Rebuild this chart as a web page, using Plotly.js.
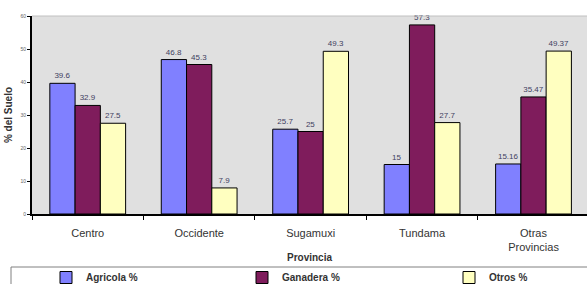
<!DOCTYPE html>
<html>
<head>
<meta charset="utf-8">
<script src="https://cdn.plot.ly/plotly-3.0.1.min.js"></script>
<style>html,body{margin:0;padding:0;background:#fff;}#chart{width:587px;height:284px;}</style>
</head>
<body>
<div id="chart"></div>
<script>
const categories = ["Centro", "Occidente", "Sugamuxi", "Tundama", "Otras<br>Provincias"];
const agricola = [39.6, 46.8, 25.7, 15, 15.16];
const ganadera = [32.9, 45.3, 25, 57.3, 35.47];
const otros = [27.5, 7.9, 49.3, 27.7, 49.37];
const seriesNames = ["Agricola %", "Ganadera %", "Otros %"];
const colors = ["#8080ff", "#7f1c5c", "#ffffc0"];
const yTicks = [0, 10, 20, 30, 40, 50, 60];

const W = 587, H = 284, L = 32, R = 0, T = 16, B = 70;
const pw = W - L - R, ph = H - T - B;
const px2x = p => (p - L) / pw;
const py2y = p => (H - B - p) / ph;

const legendIds = ['legend', 'legend2', 'legend3'];
const mk = (vals, i) => ({
  type: 'bar', x: categories, y: vals, name: seriesNames[i], legend: legendIds[i],
  marker: {color: colors[i], line: {color: '#000', width: 1}},
  text: vals.map(String), textposition: 'outside', cliponaxis: false,
  textfont: {family: 'Arial, Liberation Sans', size: 8, color: '#404060'}
});
const data = [mk(agricola, 0), mk(ganadera, 1), mk(otros, 2)];

const legStyle = (xp) => ({orientation: 'h', x: px2x(xp), xanchor: 'left', y: py2y(263), yanchor: 'top',
  bgcolor: 'rgba(0,0,0,0)', borderwidth: 0, itemwidth: 30,
  font: {size: 10, weight: 'bold', color: '#333'}});

const layout = {
  width: W, height: H,
  margin: {l: L, r: R, t: T, b: B, autoexpand: false},
  paper_bgcolor: '#fff', plot_bgcolor: '#e0e0e0',
  barmode: 'group', bargap: 0.32, bargroupgap: 0,
  font: {family: 'Arial, Liberation Sans', color: '#333'},
  showlegend: true,
  legend: legStyle(46),
  legend2: legStyle(242),
  legend3: legStyle(449),
  xaxis: {
    range: [-0.5, 4.48], tickson: 'boundaries', ticks: 'outside', ticklen: 4, tickcolor: '#000',
    showline: true, linecolor: '#000', linewidth: 1.5, showgrid: false, automargin: false,
    tickfont: {size: 11, color: '#333'}, ticklabelstandoff: 8,
    title: {text: 'Provincia', font: {size: 10, weight: 'bold', color: '#333'}, standoff: 2}
  },
  yaxis: {
    range: [0, 60], tickvals: yTicks, ticktext: yTicks.map(String), ticks: 'outside', ticklen: 3, tickcolor: '#000',
    showline: true, linecolor: '#000', linewidth: 2, showgrid: false, zeroline: false, automargin: false,
    tickfont: {size: 5, color: '#666'},
    title: {text: '% del Suelo', font: {size: 10, weight: 'bold', color: '#333'}, standoff: 6}
  },
  shapes: [
    {type: 'line', xref: 'paper', yref: 'paper', x0: 0, x1: 1, y0: 1, y1: 1, line: {color: '#c0c0c0', width: 1}},
    {type: 'rect', xref: 'paper', yref: 'paper', x0: px2x(11), x1: px2x(600), y0: py2y(267), y1: py2y(300),
      line: {color: '#808080', width: 1}, fillcolor: 'rgba(0,0,0,0)', layer: 'below'}
  ]
};
Plotly.newPlot('chart', data, layout, {displayModeBar: false, staticPlot: true});
</script>
</body>
</html>
